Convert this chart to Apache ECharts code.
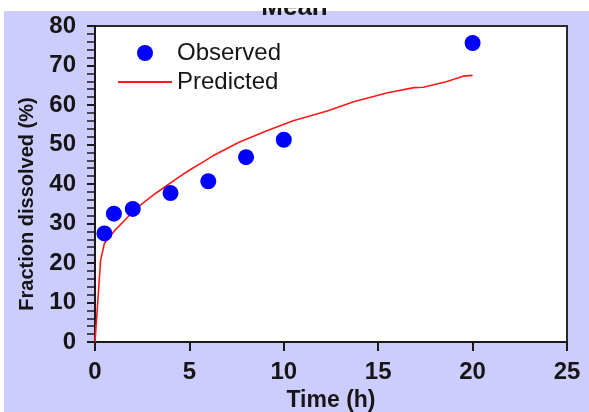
<!DOCTYPE html>
<html>
<head>
<meta charset="utf-8">
<script src="https://cdn.jsdelivr.net/npm/echarts@6/dist/echarts.min.js"></script>
<style>
  html, body { margin: 0; padding: 0; background: #ffffff; }
  #chart { width: 589px; height: 412px; }
</style>
</head>
<body>
<div id="chart"></div>
<script>
// Dissolution profile: observed fractions and model prediction over time
const observedTime = [0.5, 1, 2, 4, 6, 8, 10, 20];
const observedFraction = [27.5, 32.5, 33.7, 37.7, 40.7, 46.8, 51.2, 75.7];

const predictedTime = [0, 0.3, 0.5, 1, 1.75, 2.3, 3.2, 4.4, 5.1, 5.8, 6.3, 7.6, 9.1, 10.5, 12.3, 13.7, 15.5, 16.9, 17.4, 18.6, 19.5, 20];
const predictedFraction = [0, 20.8, 25, 28, 31.7, 34.3, 37.6, 41.6, 43.8, 45.8, 47.3, 50.5, 53.5, 56.0, 58.5, 60.8, 63.1, 64.4, 64.5, 65.9, 67.3, 67.5];

const xTicks = { min: 0, max: 25, interval: 5 };
const yTicks = { min: 0, max: 80, interval: 10 };

const chartTitle = 'Mean';
const xTitle = 'Time (h)';
const yTitle = 'Fraction dissolved (%)';

const observedPairs = observedTime.map((t, i) => [t, observedFraction[i]]);
const predictedPairs = predictedTime.map((t, i) => [t, predictedFraction[i]]);

const FONT = 'Liberation Sans, Arial, sans-serif';
const INK = '#161616';

const chart = echarts.init(document.getElementById('chart'), null, { renderer: 'canvas' });

chart.setOption({
  backgroundColor: '#CCCCFF',
  animation: false,
  textStyle: { fontFamily: FONT },
  grid: {
    left: 95, right: 22, top: 26, bottom: 70,
    outerBoundsMode: 'none',
    containLabel: false,
    show: true,
    backgroundColor: '#ffffff',
    borderColor: '#2a2a2a',
    borderWidth: 2
  },
  legend: [
    {
      left: 132,
      top: 35,
      padding: 5,
      itemWidth: 54,
      itemHeight: 16,
      textStyle: { fontFamily: FONT, fontSize: 24, color: INK, lineHeight: 26, padding: [0, 0, 0, 0] },
      data: [{ name: 'Observed', icon: 'circle' }]
    },
    {
      left: 113,
      top: 64,
      padding: 5,
      itemWidth: 54,
      itemHeight: 2,
      textStyle: { fontFamily: FONT, fontSize: 24, color: INK, lineHeight: 26 },
      data: [{ name: 'Predicted', icon: 'rect' }]
    }
  ],
  xAxis: {
    type: 'value',
    min: xTicks.min, max: xTicks.max, interval: xTicks.interval,
    name: xTitle,
    nameLocation: 'middle',
    nameGap: 40,
    nameTextStyle: { fontFamily: FONT, fontSize: 23, fontWeight: 'bold', color: INK },
    axisLine: { show: true, onZero: false, lineStyle: { color: '#1a1a1a', width: 2 } },
    axisTick: { show: true, length: 9, lineStyle: { color: '#1a1a1a', width: 2 } },
    axisLabel: { margin: 18, fontFamily: FONT, fontSize: 24, fontWeight: 'bold', color: INK },
    splitLine: { show: false }
  },
  yAxis: {
    type: 'value',
    min: yTicks.min, max: yTicks.max, interval: yTicks.interval,
    name: yTitle,
    nameLocation: 'middle',
    nameGap: 58,
    nameTextStyle: { fontFamily: FONT, fontSize: 20, fontWeight: 'bold', color: INK, padding: [0, 40, 0, 0] },
    axisLine: { show: true, onZero: false, lineStyle: { color: '#1a1a1a', width: 2 } },
    axisTick: { show: true, length: 8, lineStyle: { color: '#1a1a1a', width: 2 } },
    minorTick: { show: true, splitNumber: 5, length: 8, lineStyle: { color: '#1a1a1a', width: 1.5 } },
    axisLabel: { margin: 19, fontFamily: FONT, fontSize: 24, fontWeight: 'bold', color: INK },
    splitLine: { show: false },
    minorSplitLine: { show: false }
  },
  series: [
    {
      name: 'Predicted',
      type: 'line',
      data: predictedPairs,
      symbol: 'none',
      smooth: false,
      lineStyle: { color: '#ff1a1a', width: 1.6 },
      itemStyle: { color: '#ff1a1a' },
      z: 2
    },
    {
      name: 'Observed',
      type: 'scatter',
      data: observedPairs,
      symbol: 'circle',
      symbolSize: 16,
      itemStyle: { color: '#0000ff', opacity: 1 },
      z: 3
    }
  ],
  graphic: [
    {
      type: 'text',
      left: 'center',
      top: -5,
      z: 10,
      style: { text: chartTitle, font: 'bold 26px ' + FONT, fill: INK }
    },
    {
      type: 'rect',
      left: 0, top: 0, z: 20,
      shape: { width: 589, height: 8 },
      style: { fill: '#ffffff' }
    },
    {
      type: 'rect',
      left: 0, top: 0, z: 5,
      shape: { width: 589, height: 11 },
      style: { fill: '#ffffff' }
    },
    {
      type: 'rect',
      left: 0, top: 0, z: 5,
      shape: { width: 4, height: 412 },
      style: { fill: '#ffffff' }
    }
  ]
});
</script>
</body>
</html>
